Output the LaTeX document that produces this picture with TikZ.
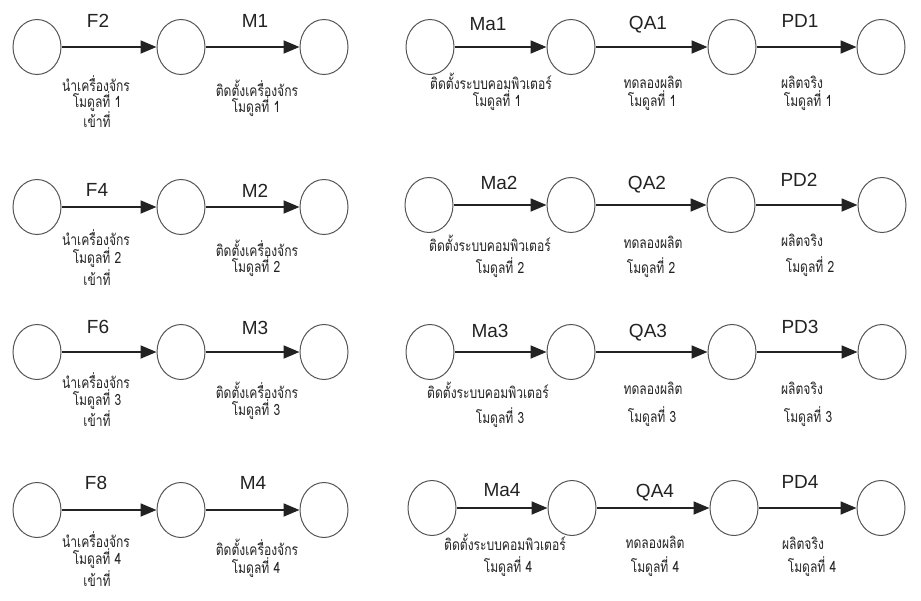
\documentclass[tikz,border=0pt]{standalone}
\usepackage{fontspec}
\setmainfont{Liberation Sans}
\newfontfamily\thaifont[Script=Thai,FakeStretch=0.78]{Loma}
\usetikzlibrary{shapes.geometric,arrows.meta}
\definecolor{ink}{HTML}{222222}
\definecolor{rim}{HTML}{555555}
\tikzset{
  evt/.style={ellipse, draw=rim, line width=1pt, minimum width=48pt, minimum height=55pt, inner sep=0pt},
  act/.style={draw=ink, line width=1.8pt, -{Triangle[length=16pt,width=13pt]}},
  code/.style={font=\fontsize{19}{19}\selectfont, text=ink, inner sep=0pt},
  th/.style={font=\thaifont\fontsize{15.5}{15.5}\selectfont, text=ink, inner sep=0pt}
}
\begin{document}
\begin{tikzpicture}[x=1pt,y=-1pt]
\useasboundingbox (0,0) rectangle (921,600);

% ---------- machine installation chains (left) ----------
\node[evt] (a10) at (37,47) {};
\node[evt] (a11) at (181,47) {};
\node[evt] (a12) at (324,47) {};
\draw[act] (a10) -- (a11);
\draw[act] (a11) -- (a12);
\node[code] (tF2) at (98,21) {F2};
\node[code] (tM1) at (255,21) {M1};
\node[th] (d1a) at (96,84) {นำเครื่องจักร};
\node[th] (d1b) at (97,102) {โมดูลที่ 1};
\node[th] (d1c) at (97,120) {เข้าที่};
\node[th] (e1a) at (257,88) {ติดตั้งเครื่องจักร};
\node[th] (e1b) at (256,107) {โมดูลที่ 1};

\node[evt] (a20) at (37,207) {};
\node[evt] (a21) at (181,207) {};
\node[evt] (a22) at (324,207) {};
\draw[act] (a20) -- (a21);
\draw[act] (a21) -- (a22);
\node[code] (tF4) at (97,190) {F4};
\node[code] (tM2) at (255,191) {M2};
\node[th] (d2a) at (96,238) {นำเครื่องจักร};
\node[th] (d2b) at (97,258) {โมดูลที่ 2};
\node[th] (d2c) at (97,278) {เข้าที่};
\node[th] (e2a) at (257,248) {ติดตั้งเครื่องจักร};
\node[th] (e2b) at (256,267) {โมดูลที่ 2};

\node[evt] (a30) at (37,352) {};
\node[evt] (a31) at (181,352) {};
\node[evt] (a32) at (324,352) {};
\draw[act] (a30) -- (a31);
\draw[act] (a31) -- (a32);
\node[code] (tF6) at (98,327) {F6};
\node[code] (tM3) at (255,328) {M3};
\node[th] (d3a) at (96,381) {นำเครื่องจักร};
\node[th] (d3b) at (97,400) {โมดูลที่ 3};
\node[th] (d3c) at (97,419) {เข้าที่};
\node[th] (e3a) at (257,390) {ติดตั้งเครื่องจักร};
\node[th] (e3b) at (256,410) {โมดูลที่ 3};

\node[evt] (a40) at (37,510) {};
\node[evt] (a41) at (181,510) {};
\node[evt] (a42) at (324,510) {};
\draw[act] (a40) -- (a41);
\draw[act] (a41) -- (a42);
\node[code] (tF8) at (96,483) {F8};
\node[code] (tM4) at (253,483) {M4};
\node[th] (d4a) at (96,540) {นำเครื่องจักร};
\node[th] (d4b) at (97,559) {โมดูลที่ 4};
\node[th] (d4c) at (97,579) {เข้าที่};
\node[th] (e4a) at (257,547) {ติดตั้งเครื่องจักร};
\node[th] (e4b) at (256,568) {โมดูลที่ 4};

% ---------- computer setup, trial run, production (right) ----------
\node[evt] (b10) at (430,47) {};
\node[evt] (b11) at (571,47) {};
\node[evt] (b12) at (732,47) {};
\node[evt] (b13) at (881,47) {};
\draw[act] (b10) -- (b11);
\draw[act] (b11) -- (b12);
\draw[act] (b12) -- (b13);
\node[code] (tMa1) at (488,24) {Ma1};
\node[code] (tQA1) at (648,25) {QA1};
\node[code] (tPD1) at (800,21) {PD1};
\node[th] (f1a) at (491,81) {ติดตั้งระบบคอมพิวเตอร์};
\node[th] (f1b) at (497,101) {โมดูลที่ 1};
\node[th] (g1a) at (653,82) {ทดลองผลิต};
\node[th] (g1b) at (652,101) {โมดูลที่ 1};
\node[th] (h1a) at (802,82) {ผลิตจริง};
\node[th] (h1b) at (808,101) {โมดูลที่ 1};

\node[evt] (b20) at (429,205) {};
\node[evt] (b21) at (571,205) {};
\node[evt] (b22) at (731,205) {};
\node[evt] (b23) at (882,205) {};
\draw[act] (b20) -- (b21);
\draw[act] (b21) -- (b22);
\draw[act] (b22) -- (b23);
\node[code] (tMa2) at (499,183) {Ma2};
\node[code] (tQA2) at (647,185) {QA2};
\node[code] (tPD2) at (799,180) {PD2};
\node[th] (f2a) at (490,243) {ติดตั้งระบบคอมพิวเตอร์};
\node[th] (f2b) at (500,268) {โมดูลที่ 2};
\node[th] (g2a) at (653,242) {ทดลองผลิต};
\node[th] (g2b) at (651,268) {โมดูลที่ 2};
\node[th] (h2a) at (802,240) {ผลิตจริง};
\node[th] (h2b) at (810,267) {โมดูลที่ 2};

\node[evt] (b30) at (430,352) {};
\node[evt] (b31) at (571,352) {};
\node[evt] (b32) at (732,352) {};
\node[evt] (b33) at (882,352) {};
\draw[act] (b30) -- (b31);
\draw[act] (b31) -- (b32);
\draw[act] (b32) -- (b33);
\node[code] (tMa3) at (490,331) {Ma3};
\node[code] (tQA3) at (648,333) {QA3};
\node[code] (tPD3) at (800,327) {PD3};
\node[th] (f3a) at (488,390) {ติดตั้งระบบคอมพิวเตอร์};
\node[th] (f3b) at (500,418) {โมดูลที่ 3};
\node[th] (g3a) at (653,388) {ทดลองผลิต};
\node[th] (g3b) at (652,417) {โมดูลที่ 3};
\node[th] (h3a) at (802,388) {ผลิตจริง};
\node[th] (h3b) at (808,417) {โมดูลที่ 3};

\node[evt] (b40) at (432,508) {};
\node[evt] (b41) at (572,508) {};
\node[evt] (b42) at (734,508) {};
\node[evt] (b43) at (881,508) {};
\draw[act] (b40) -- (b41);
\draw[act] (b41) -- (b42);
\draw[act] (b42) -- (b43);
\node[code] (tMa4) at (502,490) {Ma4};
\node[code] (tQA4) at (655,493) {QA4};
\node[code] (tPD4) at (800,482) {PD4};
\node[th] (f4a) at (505,542) {ติดตั้งระบบคอมพิวเตอร์};
\node[th] (f4b) at (508,567) {โมดูลที่ 4};
\node[th] (g4a) at (655,542) {ทดลองผลิต};
\node[th] (g4b) at (655,567) {โมดูลที่ 4};
\node[th] (h4a) at (803,543) {ผลิตจริง};
\node[th] (h4b) at (812,567) {โมดูลที่ 4};
\end{tikzpicture}
\end{document}
